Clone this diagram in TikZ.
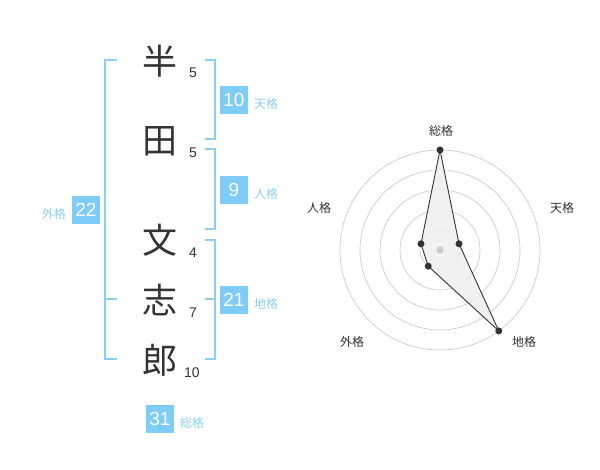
\documentclass[tikz,border=0pt]{standalone}
\usepackage{fontspec}
\setmainfont{Liberation Sans}
\newfontfamily\jp{Noto Sans CJK JP}
\definecolor{kanji}{HTML}{333333}
\definecolor{boxblue}{HTML}{80CCF8}
\definecolor{lblue}{HTML}{8CCFF4}
\definecolor{ring}{HTML}{CCCCCC}
\definecolor{polyfill}{HTML}{EEEEEE}
\tikzset{
  kj/.style={font=\jp\fontsize{35}{35}\selectfont, text=kanji, inner sep=0pt},
  strk/.style={font=\fontsize{14}{14}\selectfont, text=kanji, inner sep=0pt},
  numbox/.style={fill=boxblue, text=white, minimum size=28pt, inner sep=0pt, font=\fontsize{19}{19}\selectfont},
  kaku/.style={font=\jp\fontsize{12}{12}\selectfont, text=lblue, inner sep=0pt},
  brk/.style={draw=lblue, line width=2pt},
  rlab/.style={font=\jp\fontsize{12}{12}\selectfont, text=kanji, inner sep=0pt},
  dot/.style={circle, fill=kanji, minimum size=7pt, inner sep=0pt},
}
\begin{document}
\begin{tikzpicture}[x=1pt,y=-1pt]
\useasboundingbox (0,0) rectangle (600,470);
% kanji
\node[kj] (k1) at (160,61) {半};
\node[kj] (k2) at (160,141) {田};
\node[kj] (k3) at (160,240) {文};
\node[kj] (k4) at (160,300) {志};
\node[kj] (k5) at (160,360) {郎};
% stroke counts
\node[strk] (s1) at (193,73) {5};
\node[strk] (s2) at (193,153) {5};
\node[strk] (s3) at (193,253) {4};
\node[strk] (s4) at (193,313) {7};
\node[strk] (s5) at (192,373) {10};
% brackets
\coordinate (lt) at (117,60);
\coordinate (lb) at (117,359);
\draw[brk] (lt) -- (105,60) -- (105,359) -- (lb);
\coordinate (lm) at (117,299);
\draw[brk] (105,299) -- (lm);
\coordinate (t1) at (205,60);
\coordinate (t2) at (205,139);
\draw[brk] (t1) -- (215,60) -- (215,139) -- (t2);
\coordinate (j1) at (205,149);
\coordinate (j2) at (205,229);
\draw[brk] (j1) -- (215,149) -- (215,229) -- (j2);
\coordinate (c1) at (205,240);
\coordinate (c2) at (205,359);
\coordinate (c3) at (205,299);
\draw[brk] (c1) -- (215,240) -- (215,359) -- (c2);
\draw[brk] (215,299) -- (c3);
% boxes
\node[numbox] (b1) at (234,100) {10};
\node[kaku, anchor=west] (l1) at (254,104) {天格};
\node[numbox] (b2) at (234,190) {9};
\node[kaku, anchor=west] (l2) at (254,194) {人格};
\node[numbox] (b3) at (234,300) {21};
\node[kaku, anchor=west] (l3) at (254,304) {地格};
\node[numbox] (b4) at (86,210) {22};
\node[kaku, anchor=east] (l4) at (66,214) {外格};
\node[numbox] (b5) at (160,419) {31};
\node[kaku, anchor=west] (l5) at (180,423) {総格};
% radar
\begin{scope}[shift={(440,250)}, yscale=-1]
  \foreach \r in {20,40,60,80,100} \draw[ring, line width=0.7pt] (0,0) circle (\r);
  \coordinate (pS) at (90:100);
  \coordinate (pT) at (18:20);
  \coordinate (pC) at (-54:100);
  \coordinate (pG) at (-126:20);
  \coordinate (pJ) at (162:20);
  \fill[polyfill, opacity=0.85] (pS) -- (pT) -- (pC) -- (pG) -- (pJ) -- cycle;
  \draw[kanji, line width=0.9pt, line join=round] (pS) -- (pT) -- (pC) -- (pG) -- (pJ) -- cycle;
  \node[circle, fill=ring, minimum size=7pt, inner sep=0pt] (ctr) at (0,0) {};
  \foreach \p in {pS,pT,pC,pG,pJ} \node[dot] at (\p) {};
\end{scope}
\node[rlab] (r1) at (441,131) {総格};
\node[rlab] (r2) at (562,208) {天格};
\node[rlab] (r3) at (524,342) {地格};
\node[rlab] (r4) at (352,342) {外格};
\node[rlab] (r5) at (319,208) {人格};
\end{tikzpicture}
\end{document}
